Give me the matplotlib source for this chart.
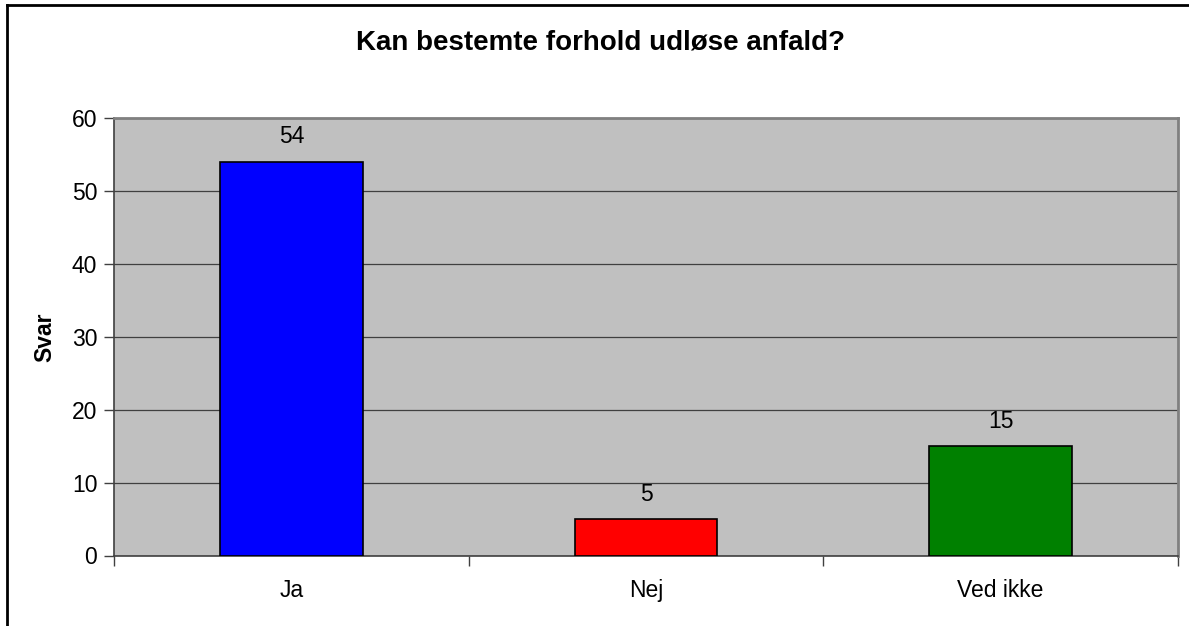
import matplotlib
matplotlib.use("Agg")
import matplotlib.pyplot as plt
from matplotlib.lines import Line2D
import numpy as np

# data
categories = ["Ja", "Nej", "Ved ikke"]
svar = [54, 5, 15]
bar_colors = ["#0000ff", "#ff0000", "#008000"]
y_ticks = [0, 10, 20, 30, 40, 50, 60]

plt.rcParams['font.family'] = ['Liberation Sans', 'DejaVu Sans']

W, H = 1189, 626
fig = plt.figure(figsize=(W / 100, H / 100), dpi=100)
ax = fig.add_axes([114 / W, 1 - 555.5 / H, (1178 - 114) / W, (555.5 - 118) / H])
ax.set_facecolor("#c0c0c0")

x = np.arange(len(categories))
ax.bar(x, svar, width=0.403, color=bar_colors, edgecolor="black", linewidth=1.2, zorder=3)

# value labels over the bars
for xi, v in zip(x, svar):
    ax.annotate(str(v), (xi, v), xytext=(0, 18), textcoords="offset points",
                ha="center", va="center", fontsize=16.5)

ax.set_xlim(-0.5, len(categories) - 0.5)
ax.set_ylim(0, 60)
ax.set_yticks(y_ticks)
ax.set_xticks(x)
ax.set_xticklabels(categories, fontsize=16.5)
# category separators as minor ticks
ax.set_xticks(np.arange(-0.5, len(categories)), minor=True)
ax.tick_params(axis="x", which="major", length=0, pad=17)
ax.tick_params(axis="x", which="minor", length=7, color="#404040", width=1)
ax.tick_params(axis="y", length=7, color="#404040", width=1, labelsize=16.5, pad=5)

ax.yaxis.grid(True, color="#404040", linewidth=0.9, zorder=0)
ax.set_axisbelow(True)

for s in ["left", "bottom"]:
    ax.spines[s].set_color("#404040")
    ax.spines[s].set_linewidth(1.2)
for s in ["top", "right"]:
    ax.spines[s].set_color("#808080")
    ax.spines[s].set_linewidth(2)

ax.set_ylabel("Svar", fontsize=16.5, fontweight="bold", va="center")
ax.yaxis.set_label_coords((45 - 114) / (1178 - 114), 0.5)
fig.text(600 / W, 1 - 43 / H, "Kan bestemte forhold udløse anfald?",
         ha="center", va="center", fontsize=20, fontweight="bold")

# outer chart border (only left and top visible in the crop)
fig.add_artist(Line2D([7 / W, 7 / W], [0, 1 - 4.5 / H], color="black", linewidth=2,
                      transform=fig.transFigure))
fig.add_artist(Line2D([7 / W, 1], [1 - 4.5 / H, 1 - 4.5 / H], color="black", linewidth=2,
                      transform=fig.transFigure))

fig.savefig("out.png", dpi=100)
